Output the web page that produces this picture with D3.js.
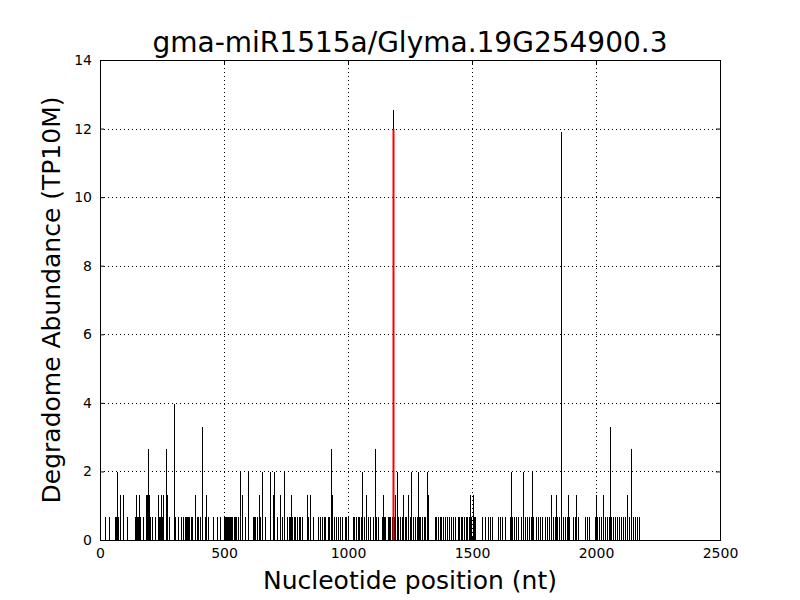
<!DOCTYPE html>
<html>
<head>
<meta charset="utf-8">
<script src="https://cdn.jsdelivr.net/npm/d3@7"></script>
<style>
  body { margin: 0; background: #fff; }
  text { font-family: "DejaVu Sans", sans-serif; }
</style>
</head>
<body>
<div id="chart"></div>
<script>
// nucleotide positions per abundance level
var pos066 = [20, 36, 60, 65, 73, 81, 93, 109, 141, 145, 149, 153, 161, 173, 185, 190, 198, 202, 210, 222,
	234, 238, 242, 246, 250, 254, 270, 278, 302, 314, 327, 335, 343, 347, 351, 355, 359, 367, 371, 383,
	391, 395, 403, 423, 427, 435, 456, 472, 484, 500, 504, 508, 512, 516, 520, 524, 528, 532, 540, 544,
	548, 556, 573, 585, 617, 621, 625, 633, 645, 665, 698, 714, 726, 734, 754, 762, 766, 774, 782, 786,
	794, 802, 806, 814, 835, 839, 847, 859, 879, 887, 895, 903, 907, 919, 923, 935, 943, 952, 960, 968,
	976, 988, 992, 1000, 1020, 1024, 1032, 1040, 1044, 1052, 1064, 1073, 1081, 1089, 1101, 1113, 1121,
	1137, 1145, 1149, 1161, 1165, 1169, 1177, 1185, 1189, 1202, 1210, 1218, 1222, 1230, 1234, 1242,
	1250, 1262, 1270, 1278, 1286, 1290, 1298, 1306, 1310, 1323, 1351, 1355, 1363, 1371, 1375, 1383,
	1391, 1399, 1407, 1415, 1423, 1431, 1443, 1447, 1456, 1460, 1468, 1476, 1480, 1488, 1496, 1508,
	1512, 1540, 1552, 1564, 1572, 1580, 1605, 1613, 1621, 1633, 1653, 1661, 1669, 1677, 1685, 1697,
	1714, 1722, 1730, 1738, 1746, 1758, 1766, 1774, 1782, 1794, 1802, 1810, 1827, 1835, 1843, 1851,
	1867, 1875, 1883, 1891, 1907, 1915, 1927, 1956, 1964, 1972, 1996, 2004, 2012, 2020, 2036, 2044,
	2052, 2060, 2068, 2076, 2085, 2093, 2101, 2109, 2117, 2133, 2149, 2157, 2165, 2173];
var pos132 = [81, 93, 145, 157, 185, 190, 198, 234, 246, 254, 270, 383, 427, 573, 641, 698, 726, 770,
	835, 847, 935, 1073, 1141, 1189, 1222, 1242, 1323, 1492, 1504, 1819, 1839, 1887, 1919, 2000, 2028, 2125];
var pos198 = [69, 564, 597, 653, 685, 702, 742, 1056, 1198, 1254, 1283, 1319, 1657, 1706, 1742];
var pos264 = [194, 266, 931, 1109, 2141];
var pos330 = [411, 2056];
var pos396 = [298];
var peakPos = [1181, 1859];
var peakVal = [12.54, 11.9];
var targetPos = 1181;
var targetVal = 11.98;

var xTicks = [0, 500, 1000, 1500, 2000, 2500];
var yTicks = [0, 2, 4, 6, 8, 10, 12, 14];

var w = 800, h = 600;
var mLeft = 100, mRight = 720, mTop = 60, mBottom = 540;

var stems = [];
pos066.forEach(function(p) { stems.push({ pos: p, val: 0.66 }); });
pos132.forEach(function(p) { stems.push({ pos: p, val: 1.32 }); });
pos198.forEach(function(p) { stems.push({ pos: p, val: 1.98 }); });
pos264.forEach(function(p) { stems.push({ pos: p, val: 2.64 }); });
pos330.forEach(function(p) { stems.push({ pos: p, val: 3.30 }); });
pos396.forEach(function(p) { stems.push({ pos: p, val: 3.96 }); });
peakPos.forEach(function(p, i) { stems.push({ pos: p, val: peakVal[i] }); });

var xScale = d3.scaleLinear().domain([0, 2500]).range([mLeft, mRight]);
var yScale = d3.scaleLinear().domain([0, 14]).range([mBottom, mTop]);

var svg = d3.select("#chart").append("svg")
	.attr("width", w)
	.attr("height", h);

svg.append("rect").attr("width", w).attr("height", h).attr("fill", "#fff");

// dotted grid
var grid = svg.append("g").attr("stroke", "#000").attr("stroke-width", 1)
	.attr("stroke-dasharray", "1,3").attr("shape-rendering", "crispEdges");
grid.selectAll(".gx").data(xTicks.slice(1, -1)).enter().append("line")
	.attr("x1", function(d) { return Math.round(xScale(d)) + 0.5; })
	.attr("x2", function(d) { return Math.round(xScale(d)) + 0.5; })
	.attr("y1", mTop).attr("y2", mBottom);
grid.selectAll(".gy").data(yTicks.slice(1, -1)).enter().append("line")
	.attr("y1", function(d) { return Math.round(yScale(d)) + 0.5; })
	.attr("y2", function(d) { return Math.round(yScale(d)) + 0.5; })
	.attr("x1", mLeft).attr("x2", mRight);

// stems
svg.append("g").selectAll("line").data(stems).enter().append("line")
	.attr("x1", function(d) { return Math.round(xScale(d.pos)) + 0.5; })
	.attr("x2", function(d) { return Math.round(xScale(d.pos)) + 0.5; })
	.attr("y1", yScale(0))
	.attr("y2", function(d) { return yScale(d.val); })
	.attr("stroke", "#000")
	.attr("stroke-width", 1)
	.attr("shape-rendering", "crispEdges");

svg.append("line")
	.attr("x1", Math.round(xScale(targetPos)) + 0.5)
	.attr("x2", Math.round(xScale(targetPos)) + 0.5)
	.attr("y1", yScale(0))
	.attr("y2", yScale(targetVal))
	.attr("stroke", "#ff0000")
	.attr("stroke-width", 2);

// axes with inward ticks on all sides
var fmt = d3.format("d");
var xAxis = d3.axisBottom(xScale).tickValues(xTicks).tickFormat(fmt).tickSizeInner(-4).tickSizeOuter(0).tickPadding(8);
var yAxis = d3.axisLeft(yScale).tickValues(yTicks).tickFormat(fmt).tickSizeInner(-4).tickSizeOuter(0).tickPadding(8);

var gx = svg.append("g").attr("transform", "translate(0," + mBottom + ")").call(xAxis);
var gy = svg.append("g").attr("transform", "translate(" + mLeft + ",0)").call(yAxis);
var gxt = svg.append("g").attr("transform", "translate(0," + mTop + ")")
	.call(d3.axisTop(xScale).tickValues(xTicks).tickSizeInner(-4).tickSizeOuter(0).tickFormat(""));
var gyr = svg.append("g").attr("transform", "translate(" + mRight + ",0)")
	.call(d3.axisRight(yScale).tickValues(yTicks).tickSizeInner(-4).tickSizeOuter(0).tickFormat(""));

[gx, gy, gxt, gyr].forEach(function(g) {
	g.attr("font-size", 14).attr("font-family", "DejaVu Sans, sans-serif");
	g.select(".domain").remove();
	g.selectAll("line").attr("stroke", "#000");
	g.selectAll("text").attr("fill", "#000");
});

svg.append("rect")
	.attr("x", mLeft + 0.5).attr("y", mTop + 0.5)
	.attr("width", mRight - mLeft).attr("height", mBottom - mTop)
	.attr("fill", "none").attr("stroke", "#000").attr("stroke-width", 1);

svg.append("text")
	.attr("x", (mLeft + mRight) / 2).attr("y", 52)
	.attr("text-anchor", "middle").attr("font-size", 28)
	.text("gma-miR1515a/Glyma.19G254900.3");

svg.append("text")
	.attr("x", (mLeft + mRight) / 2).attr("y", 589)
	.attr("text-anchor", "middle").attr("font-size", 25)
	.text("Nucleotide position (nt)");

svg.append("text")
	.attr("transform", "translate(60," + (mTop + mBottom) / 2 + ") rotate(-90)")
	.attr("text-anchor", "middle").attr("font-size", 25)
	.text("Degradome Abundance (TP10M)");
</script>
</body>
</html>
